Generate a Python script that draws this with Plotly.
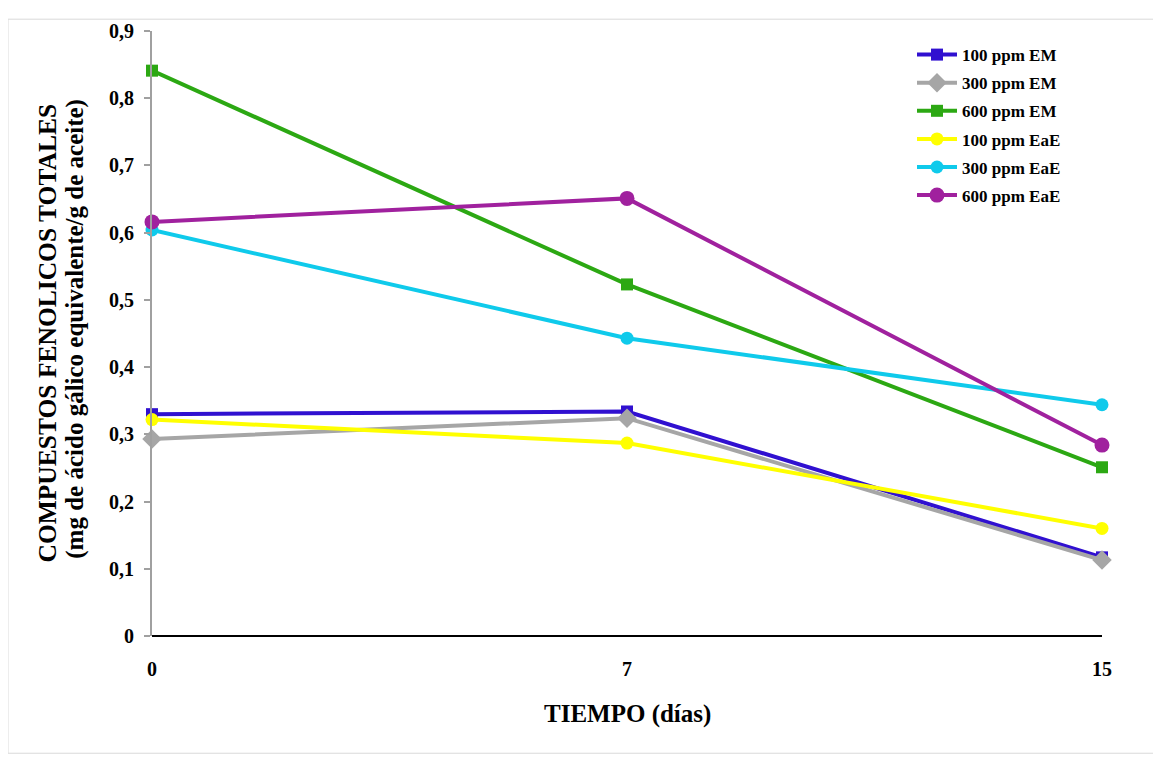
import plotly.graph_objects as go

days = ["0", "7", "15"]
series_names = ["100 ppm EM", "300 ppm EM", "600 ppm EM", "100 ppm EaE", "300 ppm EaE", "600 ppm EaE"]
em_100 = [0.330, 0.334, 0.117]
em_300 = [0.293, 0.324, 0.113]
em_600 = [0.841, 0.523, 0.251]
eae_100 = [0.322, 0.287, 0.160]
eae_300 = [0.604, 0.443, 0.344]
eae_600 = [0.616, 0.651, 0.284]
y_tickvals = [0, 0.1, 0.2, 0.3, 0.4, 0.5, 0.6, 0.7, 0.8, 0.9]
y_ticktext = ["0", "0,1", "0,2", "0,3", "0,4", "0,5", "0,6", "0,7", "0,8", "0,9"]

values = [em_100, em_300, em_600, eae_100, eae_300, eae_600]
colors = ["#3010D0", "#A6A6A6", "#2CA813", "#FFFF00", "#0FCAEB", "#A0219E"]
symbols = ["square", "diamond", "square", "circle", "circle", "circle"]
sizes = [12, 15, 12, 13, 13, 15]

FONT = "Liberation Serif, Times New Roman, serif"
xpos = list(range(len(days)))

fig = go.Figure()
for i, (name, vals, c, s, sz) in enumerate(zip(series_names, values, colors, symbols, sizes)):
    fig.add_trace(go.Scatter(
        x=xpos, y=vals, name=name, mode="lines+markers", legendgroup=f"g{i}",
        line=dict(color=c, width=4),
        marker=dict(color=c, symbol=s, size=sz),
        cliponaxis=False,
    ))

fig.update_layout(
    width=1153, height=753,
    paper_bgcolor="white", plot_bgcolor="white",
    margin=dict(l=144, r=59, t=14, b=125),
    font=dict(family=FONT, color="black"),
    showlegend=True,
    legend=dict(
        x=0.800, y=0.990, xanchor="left", yanchor="top",
        font=dict(family=FONT, size=17, color="black", weight="bold"),
        bgcolor="rgba(0,0,0,0)", tracegroupgap=3, itemwidth=40,
    ),
    xaxis=dict(
        range=[0, 2], tickvals=xpos, ticktext=days,
        showgrid=False, zeroline=False, showline=False,
        ticks="", ticklabelstandoff=19,
        tickfont=dict(family=FONT, size=20, color="black", weight="bold"),
    ),
    yaxis=dict(
        range=[0, 0.9], tickvals=y_tickvals, ticktext=y_ticktext,
        showgrid=False, zeroline=False,
        showline=True, linecolor="#A0A0A0", linewidth=2,
        ticks="outside", ticklen=6, tickcolor="#A0A0A0", tickwidth=2,
        ticklabelstandoff=6,
        tickfont=dict(family=FONT, size=20, color="black", weight="bold"),
    ),
    shapes=[
        dict(type="line", xref="paper", yref="paper", x0=0, x1=1, y0=0, y1=0,
             line=dict(color="black", width=2), layer="below"),
        dict(type="rect", xref="paper", yref="paper", x0=-0.1516, x1=1.0558, y0=-0.1938, y1=1.0195,
             line=dict(color="#D9D9D9", width=1), layer="below"),
    ],
    annotations=[
        dict(text="COMPUESTOS FENOLICOS TOTALES", xref="paper", yref="paper",
             x=-0.1105, y=0.50, textangle=-90, showarrow=False, xanchor="center", yanchor="middle",
             font=dict(family=FONT, size=25.5, color="black", weight="bold")),
        dict(text="(mg de ácido gálico equivalente/g de aceite)", xref="paper", yref="paper",
             x=-0.081, y=0.508, textangle=-90, showarrow=False, xanchor="center", yanchor="middle",
             font=dict(family=FONT, size=25, color="black", weight="bold")),
        dict(text="TIEMPO (días)", xref="paper", yref="paper",
             x=0.5, y=-0.1287, showarrow=False, xanchor="center", yanchor="middle",
             font=dict(family=FONT, size=25, color="black", weight="bold")),
    ],
)

fig.write_html("out.html")
